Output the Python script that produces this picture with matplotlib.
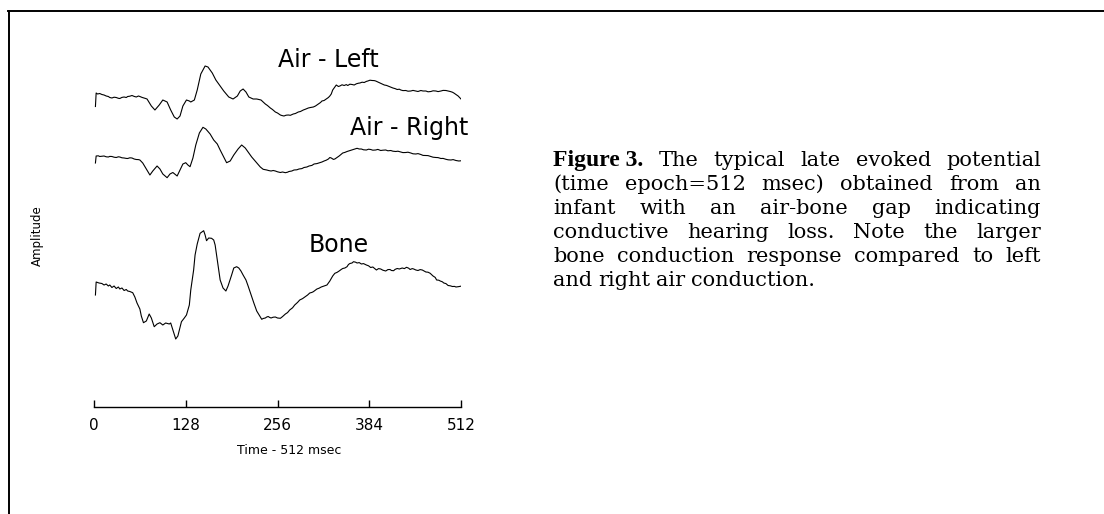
import matplotlib as mpl
mpl.use('Agg')
import matplotlib.pyplot as plt
from matplotlib.lines import Line2D

# (time msec, amplitude) pairs, amplitude in arbitrary units (up = positive)
air_left = [(2, -8.5), (3, 5), (5, 4), (8, 4.5), (11, 3.5), (14, 3), (17, 2), (20, 1.5), (22, 0.5), (25, 0),
            (28, 0.8), (31, 0.5), (34, -0.3), (36, -0.5), (39, 0.6), (42, 1), (45, 0.5), (47, 1.5), (50, 1.8),
            (53, 2.5), (56, 1.6), (59, 1), (62, 2), (64, 1.5), (67, 0.6), (70, 0), (72, -0.5), (74, -1),
            (80, -8), (85, -12), (91, -7), (96, -2), (102, -4), (107, -12), (112, -19), (116, -21), (120, -18),
            (124, -8), (129, -2), (133, -3), (135, -4), (140, -2), (144, 8), (149, 24), (155, 32), (159, 31),
            (165, 25), (170, 18), (176, 12), (181, 7), (188, 1), (194, -1), (200, 2), (204, 7), (208, 9),
            (212, 6), (216, 1), (222, -1), (227, -1), (233, -2), (236, -4), (239, -6), (242, -7.5), (246, -10),
            (249, -11.5), (253, -14), (256, -15), (260, -17), (262, -17.5), (265, -18), (268, -17.2),
            (271, -17), (274, -17.3), (278, -16), (281, -15.5), (285, -14), (288, -13.5), (292, -12),
            (295, -11.2), (299, -10), (302, -9.5), (306, -9), (309, -8), (313, -6), (316, -4.5), (318, -3),
            (321, -2.5), (324, -1), (327, 0.5), (329, 2), (331, 4), (333, 8), (335, 10), (338, 13),
            (341, 11.5), (343, 12), (346, 13.2), (349, 12.5), (352, 13.4), (354, 12.5), (357, 13.8),
            (360, 13.5), (363, 13), (366, 14.2), (369, 14.8), (371, 15), (374, 15.8), (377, 15.5),
            (380, 16.6), (382, 17), (385, 17.8), (388, 17.5), (391, 17.4), (393, 17), (396, 16), (399, 15),
            (402, 14), (405, 13), (408, 12.6), (410, 12), (413, 11), (417, 10), (420, 9.4), (423, 8.5),
            (426, 8.8), (428, 8), (431, 7.4), (435, 7.5), (438, 6.8), (442, 7), (445, 7.6), (449, 7),
            (452, 6.5), (456, 7.5), (459, 7), (463, 7), (466, 6.2), (470, 6.5), (473, 7.2), (477, 7),
            (480, 6.4), (484, 7), (487, 7.6), (491, 7.5), (494, 7), (497, 6.5), (500, 5.8), (502, 5),
            (505, 3.5), (508, 2), (510, 0.5), (512, -1)]

air_right = [(2, -8), (3, -1), (6, -0.8), (8, -1.5), (11, -1.2), (14, -1), (17, -1.8), (20, -2), (22, -1.4),
             (25, -1.5), (28, -2.2), (31, -2.5), (34, -1.8), (36, -2), (39, -2.8), (42, -3), (45, -3.4),
             (47, -3.5), (50, -2.8), (53, -3), (56, -4), (59, -4.5), (62, -4.6), (64, -5), (68, -8), (73, -14),
             (78, -20), (82, -16), (88, -11), (92, -14), (96, -19), (102, -22.7), (106, -19), (110, -17.5),
             (116, -21), (120, -15), (124, -9), (128, -7.7), (131, -10), (134, -11.7), (138, -3), (142, 10),
             (147, 22), (152, 27.7), (156, 26), (162, 21), (167, 15), (172, 11), (176, 5), (181, -2),
             (185, -7.7), (190, -6), (195, 0), (201, 6), (206, 10), (211, 7), (215, 3), (220, -2), (226, -7),
             (232, -12), (236, -14.3), (241, -15), (244, -15.6), (247, -16), (250, -15.5), (253, -16),
             (256, -16.8), (260, -17.5), (263, -17), (267, -17.7), (270, -17.2), (272, -16.5), (276, -16),
             (279, -15), (283, -14.8), (286, -14), (290, -13.6), (293, -12.5), (297, -12), (300, -11),
             (304, -10.4), (307, -9), (311, -8.6), (315, -7.7), (318, -7), (321, -6), (324, -5.2), (327, -4),
             (329, -2.5), (331, -3), (334, -4.4), (336, -4), (339, -2.5), (342, -1), (345, 0.8), (347, 2),
             (350, 2.6), (353, 3.5), (356, 4.2), (359, 5), (363, 5.8), (367, 6.7), (370, 6), (373, 6),
             (376, 5.2), (380, 5), (383, 5.8), (386, 5.5), (389, 4.8), (393, 5), (396, 5.6), (400, 4.5),
             (403, 4.8), (407, 5), (410, 4.2), (414, 4.5), (417, 3.8), (421, 3.5), (424, 3.8), (428, 3),
             (431, 2.4), (435, 2.5), (438, 2.8), (442, 2), (445, 1.2), (449, 1), (452, 1.4), (456, 0.5),
             (459, -0.4), (463, -0.5), (466, -0.6), (470, -1.5), (473, -2.2), (477, -2.5), (480, -2.6),
             (484, -3.5), (487, -3.4), (491, -4.3), (494, -4.8), (498, -5), (501, -4.6), (505, -5.5),
             (509, -6), (513, -5.7)]

bone = [(2, -10), (3, 3), (7, 2), (11, 1.5), (14, 0), (17, 1), (20, -1), (22, 0), (25, -2.5), (28, -1),
        (31, -3.5), (34, -2), (36, -4), (39, -3), (42, -5.5), (45, -4.5), (47, -6), (50, -6.5), (54, -7.7),
        (57, -12), (60, -18), (64, -24), (66, -31), (69, -37.7), (73, -36), (77, -29), (80, -33), (84, -41.7),
        (88, -39), (92, -37.7), (96, -40), (100, -38), (105, -39), (107, -38), (110, -45), (114, -54),
        (117, -51), (122, -36.7), (126, -33), (129, -30), (133, -20), (135, -5), (139, 15), (141, 30),
        (144, 41), (148, 51.7), (153, 54.3), (155, 50), (157, 44.3), (160, 47), (164, 46.7), (167, 45),
        (169, 40), (172, 25), (176, 5), (180, -3), (184, -6), (187, -1), (192, 10), (195, 17), (199, 18.3),
        (202, 17), (205, 14), (208, 10), (212, 5), (215, -1), (220, -11.7), (223, -18), (227, -26),
        (234, -34.3), (236, -33.5), (239, -33), (241, -32), (243, -31.5), (245, -32.4), (247, -33),
        (250, -32.2), (253, -32), (256, -33), (260, -33.3), (263, -31.6), (267, -29), (270, -27.6),
        (273, -25), (277, -22.8), (280, -20), (284, -17.4), (287, -15), (291, -13.6), (294, -12), (298, -10),
        (301, -8), (304, -7.4), (306, -6.7), (309, -5), (311, -4), (314, -3.2), (317, -2), (321, -1),
        (325, 0), (327, 2), (329, 4), (331, 6.5), (333, 9), (336, 11.7), (339, 12.6), (342, 14),
        (345, 15.6), (347, 16.5), (350, 17), (353, 18.3), (355, 20.5), (357, 21.5), (360, 22), (362, 23.3),
        (365, 22.8), (367, 22), (370, 22.4), (373, 21), (376, 21.4), (380, 20), (383, 19.2), (386, 17.5),
        (389, 18), (392, 16.2), (394, 15), (397, 16.4), (400, 16), (403, 14.8), (407, 14), (410, 15.4),
        (413, 15.5), (415, 14.5), (418, 14.3), (420, 15.6), (423, 16.5), (426, 16), (430, 17), (433, 16.4),
        (436, 17.7), (439, 16.8), (441, 15.5), (444, 16.4), (446, 16), (449, 15), (452, 14.5), (455, 15.4),
        (458, 15), (461, 13.8), (463, 13), (466, 12.8), (469, 11.7), (471, 10.4), (473, 9), (476, 7.6),
        (478, 5), (481, 4.8), (483, 4), (486, 3.2), (488, 2), (491, 1.4), (494, -0.5), (497, -0.8),
        (500, -1.5), (503, -1.4), (505, -2), (509, -1.6), (513, -1)]

offsets = {'left': 309, 'right': 252, 'bone': 122}
xticks = [0, 128, 256, 384, 512]

caption_head = "Figure 3."
caption = [
    "The typical late evoked potential",
    "(time epoch=512 msec) obtained from an",
    "infant with an air-bone gap indicating",
    "conductive hearing loss.  Note the larger",
    "bone conduction response compared to left",
    "and right air conduction.",
]

W, H = 1104, 514
fig = plt.figure(figsize=(W / 100, H / 100), dpi=100)

# border: top and left only
fig.add_artist(Line2D([8 / W, 1], [1 - 11 / H, 1 - 11 / H], color='k', lw=1.4,
                      transform=fig.transFigure))
fig.add_artist(Line2D([9 / W, 9 / W], [0, 1 - 11 / H], color='k', lw=1.4,
                      transform=fig.transFigure))

ax = fig.add_axes([94 / W, 1 - 407 / H, 367 / W, 367 / H])
for key, trace in [('left', air_left), ('right', air_right), ('bone', bone)]:
    t = [p[0] for p in trace]
    y = [offsets[key] + p[1] for p in trace]
    ax.plot(t, y, 'k', lw=0.8)
ax.set_xlim(0, 512)
ax.set_ylim(0, 367)
for s in ['top', 'right', 'left']:
    ax.spines[s].set_visible(False)
ax.spines['bottom'].set_linewidth(1.0)
ax.set_yticks([])
ax.set_xticks(xticks)
ax.tick_params(axis='x', direction='in', length=5, width=1, labelsize=11, pad=8)

lab = dict(fontsize=17, ha='center', va='center', family='DejaVu Sans')
ax.text(327, 407 - 60, 'Air - Left', **lab)
ax.text(440, 407 - 128, 'Air - Right', **lab)
ax.text(342, 407 - 245, 'Bone', **lab)

fig.text(289 / W, 1 - 451 / H, 'Time - 512 msec', fontsize=9, ha='center', va='center')
fig.text(37 / W, 1 - 236 / H, 'Amplitude', fontsize=8.5, rotation=90, ha='center', va='center')

# justified caption, bold head on the first line
x0, x1 = 553, 1041
base0, step = 166, 24
r = fig.canvas.get_renderer()
for i, line in enumerate(caption):
    yb = 1 - (base0 + i * step) / H
    arts = []
    if i == 0:
        arts.append(fig.text(0, yb, caption_head, va='baseline', fontsize=17,
                             family='Liberation Serif', fontweight='bold'))
    for w in line.split():
        arts.append(fig.text(0, yb, w, va='baseline', fontsize=15, family='DejaVu Serif'))
    widths = [a.get_window_extent(r).width for a in arts]
    if i == len(caption) - 1:
        gap = 6
    else:
        gap = (x1 - x0 - sum(widths)) / (len(arts) - 1)
    x = x0
    for a, wd in zip(arts, widths):
        a.set_x(x / W)
        x += wd + gap

fig.savefig('out.png', dpi=100)
